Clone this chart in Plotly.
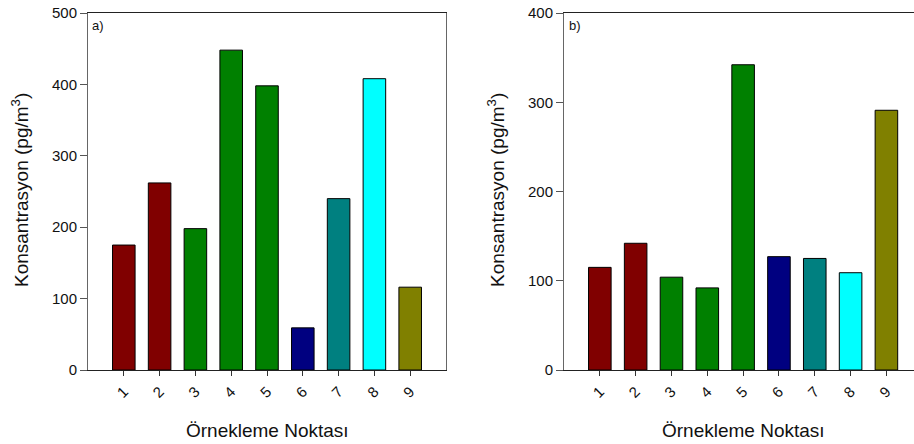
import plotly.graph_objects as go

categories = ["1", "2", "3", "4", "5", "6", "7", "8", "9"]
values_a = [175, 262, 198, 448, 398, 59, 240, 408, 116]
values_b = [115, 142, 104, 92, 342, 127, 125, 109, 291]
colors = ["#800000", "#800000", "#008000", "#008000", "#008000",
          "#000080", "#008080", "#00FFFF", "#808000"]
x_pos = [1, 2, 3, 4, 5, 6, 7, 8, 9]

W, H = 914, 444
L, R, T, B = 0, 0, 13, 74
pw, ph = W - L - R, H - T - B


def px(x):
    return (x - L) / pw


def py(y):
    return (H - B - y) / ph


fig = go.Figure()
fig.add_trace(go.Bar(x=x_pos, y=values_a, width=0.63,
                     marker=dict(color=colors, line=dict(color="black", width=1)),
                     xaxis="x", yaxis="y", showlegend=False))
fig.add_trace(go.Bar(x=x_pos, y=values_b, width=0.63,
                     marker=dict(color=colors, line=dict(color="black", width=1)),
                     xaxis="x2", yaxis="y2", showlegend=False))

font = dict(family="Liberation Sans, Arial, sans-serif", color="#111", size=13)
xcommon = dict(tickmode="array", tickvals=x_pos, ticktext=categories, tickangle=-45,
               ticks="outside", ticklen=5, tickcolor="#333", showgrid=False, zeroline=False,
               showline=True, linecolor="#222", linewidth=1, tickfont=dict(size=15),
               ticklabelstandoff=1)
ycommon = dict(ticks="outside", ticklen=7, tickcolor="#555", showgrid=False, zeroline=False,
               showline=True, linecolor="#666", linewidth=1, tickfont=dict(size=15))

title_font = dict(size=19)
ann_common = dict(xref="paper", yref="paper", showarrow=False, xanchor="center", yanchor="middle")
fig.update_layout(
    width=W, height=H,
    margin=dict(l=L, r=R, t=T, b=B),
    paper_bgcolor="white", plot_bgcolor="white",
    font=font,
    xaxis=dict(domain=[px(88), px(446)], range=[0, 10], mirror=True, **xcommon),
    yaxis=dict(range=[0, 500], dtick=100, mirror=True, **ycommon),
    xaxis2=dict(domain=[px(564), 1.0], range=[0, 9.77], mirror=True, anchor="y2", **xcommon),
    yaxis2=dict(range=[0, 400], dtick=100, mirror=False, anchor="x2", **ycommon),
    annotations=[
        dict(text="a)", x=px(90), y=py(16), xref="paper", yref="paper", xanchor="left", yanchor="top",
             showarrow=False, font=dict(size=13)),
        dict(text="b)", x=px(567), y=py(16), xref="paper", yref="paper", xanchor="left", yanchor="top",
             showarrow=False, font=dict(size=13)),
        dict(text="Konsantrasyon (pg/m<sup>3</sup>)", x=px(20), y=py(190), textangle=-90,
             font=title_font, **ann_common),
        dict(text="Örnekleme Noktası", x=px(267), y=py(430), font=title_font, **ann_common),
        dict(text="Konsantrasyon (pg/m<sup>3</sup>)", x=px(496), y=py(190), textangle=-90,
             font=title_font, **ann_common),
        dict(text="Örnekleme Noktası", x=px(743), y=py(430), font=title_font, **ann_common),
    ],
)

fig.write_html("out.html", config={"displayModeBar": False},
               post_script="document.body.style.margin='0';document.body.style.overflow='hidden';")
